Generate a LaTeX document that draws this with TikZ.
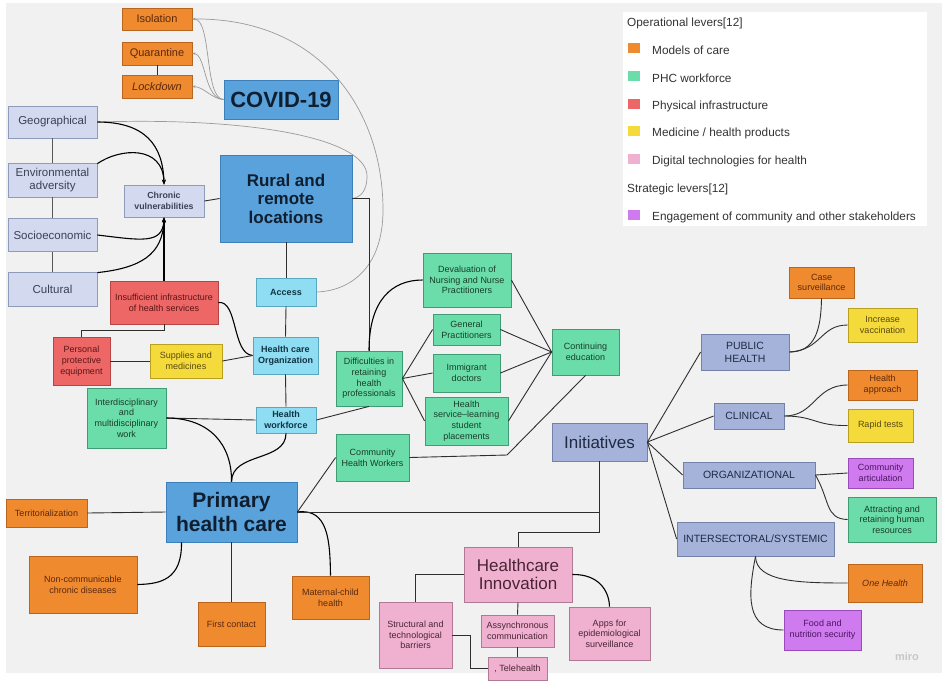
\documentclass[tikz,border=0pt]{standalone}
\usepackage{fontspec}
\setmainfont{Liberation Sans}
\usetikzlibrary{arrows.meta}
\definecolor{bgc}{HTML}{F1F1F1}
\definecolor{cor}{HTML}{F08A2E}\definecolor{corD}{HTML}{B8661F}\definecolor{corT}{HTML}{5A2810}
\definecolor{cbl}{HTML}{5AA2DC}\definecolor{cblD}{HTML}{3D7FB8}\definecolor{cblT}{HTML}{0F1F30}
\definecolor{clv}{HTML}{D3DAF0}\definecolor{clvD}{HTML}{8F9BBA}\definecolor{clvT}{HTML}{3A4255}
\definecolor{ccy}{HTML}{8FDDF2}\definecolor{ccyD}{HTML}{5AA8C0}\definecolor{ccyT}{HTML}{113344}
\definecolor{crd}{HTML}{EE6767}\definecolor{crdD}{HTML}{B84444}\definecolor{crdT}{HTML}{5A1515}
\definecolor{cye}{HTML}{F4DA3A}\definecolor{cyeD}{HTML}{B8A020}\definecolor{cyeT}{HTML}{5A4A10}
\definecolor{cgr}{HTML}{6ADDAA}\definecolor{cgrD}{HTML}{3F9C74}\definecolor{cgrT}{HTML}{1A3D2C}
\definecolor{cpk}{HTML}{EFB1CF}\definecolor{cpkD}{HTML}{B07A95}\definecolor{cpkT}{HTML}{4A2435}
\definecolor{cin}{HTML}{A5B3DA}\definecolor{cinD}{HTML}{7482AA}\definecolor{cinT}{HTML}{1F2A44}
\definecolor{cpu}{HTML}{CF7BEF}\definecolor{cpuD}{HTML}{9A4BBB}\definecolor{cpuT}{HTML}{4A1560}
\definecolor{lnc}{HTML}{2E2E2E}\definecolor{lng}{HTML}{9A9A9A}
\newcommand{\fsz}[2]{\fontsize{#1}{#2}\selectfont}
\begin{document}
\begin{tikzpicture}[x=1pt,y=-1pt,
  bx/.style={draw, rectangle, align=center, inner sep=1pt, line width=0.8pt, font=\fsz{9}{10.7}},
  org/.style={bx, fill=cor, draw=corD, text=corT},
  blu/.style={bx, fill=cbl, draw=cblD, text=cblT},
  lav/.style={bx, fill=clv, draw=clvD, text=clvT, font=\fsz{11.5}{13.3}},
  cya/.style={bx, fill=ccy, draw=ccyD, text=ccyT, font=\fsz{9}{10.7}\bfseries},
  red/.style={bx, fill=crd, draw=crdD, text=crdT},
  yel/.style={bx, fill=cye, draw=cyeD, text=cyeT},
  grn/.style={bx, fill=cgr, draw=cgrD, text=cgrT},
  pnk/.style={bx, fill=cpk, draw=cpkD, text=cpkT},
  ini/.style={bx, fill=cin, draw=cinD, text=cinT, font=\fsz{10.5}{13}},
  pur/.style={bx, fill=cpu, draw=cpuD, text=cpuT},
  ln/.style={draw=lnc, line width=0.9pt},
  blk/.style={draw=black, line width=1.1pt},
  arr/.style={blk, -{Stealth[length=5pt,width=4pt]}},
  gln/.style={draw=lng, line width=0.7pt},
  garr/.style={gln, {Stealth[length=3pt,width=2.5pt]}-},
  legtxt/.style={anchor=west, inner sep=0pt, font=\fsz{11.8}{13}, text=black!80},
  legsq/.style={minimum width=12, minimum height=10, inner sep=0pt}
]
\useasboundingbox (0,0) rectangle (942,681);
\fill[white] (0,0) rectangle (942,681);
\fill[bgc] (6,3) rectangle (942,673);

% legend
\node[fill=white, minimum width=304, minimum height=214, anchor=north west, inner sep=0pt] (legend) at (623,12) {};
\node[legtxt] (lg0) at (627,23) {Operational levers[12]};
\node[legsq, fill=cor] (sq1) at (634,47.5) {};
\node[legtxt] (lg1) at (652,50) {Models of care};
\node[legsq, fill=cgr] (sq2) at (634,75.5) {};
\node[legtxt] (lg2) at (652,78) {PHC workforce};
\node[legsq, fill=crd] (sq3) at (634,103.5) {};
\node[legtxt] (lg3) at (652,106) {Physical infrastructure};
\node[legsq, fill=cye] (sq4) at (634,130.5) {};
\node[legtxt] (lg4) at (652,133) {Medicine / health products};
\node[legsq, fill=cpk] (sq5) at (634,158.5) {};
\node[legtxt] (lg5) at (652,161) {Digital technologies for health};
\node[legtxt] (lg6) at (627,189) {Strategic levers[12]};
\node[legsq, fill=cpu] (sq7) at (634,214.5) {};
\node[legtxt] (lg7) at (652,217) {Engagement of community and other stakeholders};

% nodes
\node[org, minimum width=70, minimum height=22, font=\fsz{11}{13}] (iso) at (157,19) {Isolation};
\node[org, minimum width=70, minimum height=23, font=\fsz{11}{13}] (quar) at (157,53.5) {Quarantine};
\node[org, minimum width=70, minimum height=23, font=\fsz{11}{13}\itshape] (lock) at (157,86.5) {Lockdown};
\node[blu, minimum width=114, minimum height=39, font=\fsz{22}{24}\bfseries] (covid) at (281,99.5) {COVID-19};
\node[lav, minimum width=89, minimum height=32] (geo) at (52.5,122) {Geographical};
\node[lav, minimum width=89, minimum height=34] (env) at (52.5,180) {Environmental\\adversity};
\node[lav, minimum width=89, minimum height=33] (soc) at (52.5,235) {Socioeconomic};
\node[lav, minimum width=89, minimum height=34] (cul) at (52.5,289) {Cultural};
\node[lav, minimum width=80, minimum height=32, font=\fsz{8.8}{11}\bfseries] (chron) at (164,201) {Chronic\\vulnerabilities};
\node[blu, minimum width=132, minimum height=87, font=\fsz{17}{18.5}\bfseries] (rural) at (286,198.5) {Rural and\\remote\\locations};
\node[cya, minimum width=60, minimum height=28] (access) at (286,292) {Access};
\node[red, minimum width=108, minimum height=43] (insuf) at (164,302.5) {Insufficient infrastructure\\of health services};
\node[red, minimum width=57, minimum height=48] (ppe) at (81.5,361) {Personal\\protective\\equipment};
\node[yel, minimum width=72, minimum height=34] (supp) at (186,361) {Supplies and\\medicines};
\node[cya, minimum width=65, minimum height=37] (hco) at (285.5,355.5) {Health care\\Organization};
\node[grn, minimum width=79, minimum height=60] (inter) at (126.5,418) {Interdisciplinary\\and\\multidisciplinary\\work};
\node[cya, minimum width=60, minimum height=26] (hwf) at (286,420) {Health\\workforce};
\node[grn, minimum width=66, minimum height=55] (diff) at (369,378.5) {Difficulties in\\retaining\\health\\professionals};
\node[grn, minimum width=88, minimum height=54] (deval) at (467,280) {Devaluation of\\Nursing and Nurse\\Practitioners};
\node[grn, minimum width=67, minimum height=31] (gp) at (466.5,329.5) {General\\Practitioners};
\node[grn, minimum width=67, minimum height=38] (immi) at (466.5,373) {Immigrant\\doctors};
\node[grn, minimum width=83, minimum height=48] (hsl) at (466.5,421) {Health\\service--learning\\student\\placements};
\node[grn, minimum width=67, minimum height=46] (cont) at (585.5,352) {Continuing\\education};
\node[grn, minimum width=73, minimum height=47] (chw) at (372.5,457.5) {Community\\Health Workers};
\node[ini, minimum width=95, minimum height=38, font=\fsz{17}{19}] (init) at (599.5,442) {Initiatives};
\node[blu, minimum width=131, minimum height=60, font=\fsz{21}{24}\bfseries] (phc) at (231.5,512) {Primary\\health care};
\node[org, minimum width=81, minimum height=28] (terr) at (46.5,513) {Territorialization};
\node[org, minimum width=108, minimum height=57] (ncd) at (83,584.5) {Non-communicable\\chronic diseases};
\node[org, minimum width=67, minimum height=44] (first) at (231.5,624) {First contact};
\node[org, minimum width=77, minimum height=43] (mat) at (330.5,597.5) {Maternal-child\\health};
\node[pnk, minimum width=108, minimum height=55, font=\fsz{17}{18.5}] (hi) at (518,574.5) {Healthcare\\Innovation};
\node[pnk, minimum width=73, minimum height=66] (struct) at (415.5,635) {Structural and\\technological\\barriers};
\node[pnk, minimum width=73, minimum height=32] (async) at (517.5,631) {Assynchronous\\communication};
\node[pnk, minimum width=59, minimum height=23] (tele) at (517.5,668.5) {, Telehealth};
\node[pnk, minimum width=81, minimum height=53] (apps) at (609.5,633.5) {Apps for\\epidemiological\\surveillance};
\node[ini, minimum width=88, minimum height=36] (ph) at (745,352) {PUBLIC\\HEALTH};
\node[ini, minimum width=70, minimum height=26] (clin) at (749,416) {CLINICAL};
\node[ini, minimum width=132, minimum height=26] (orgn) at (749,475) {ORGANIZATIONAL};
\node[ini, minimum width=157, minimum height=34] (isys) at (755.5,539) {INTERSECTORAL/SYSTEMIC};
\node[org, minimum width=65, minimum height=31] (case) at (821.5,282.5) {Case\\surveillance};
\node[yel, minimum width=69, minimum height=34] (vacc) at (882.5,325) {Increase\\vaccination};
\node[org, minimum width=69, minimum height=30] (happ) at (882.5,385) {Health\\approach};
\node[yel, minimum width=65, minimum height=33] (rapid) at (880.5,425.5) {Rapid tests};
\node[pur, minimum width=65, minimum height=30] (comm) at (880.5,473) {Community\\articulation};
\node[grn, minimum width=88, minimum height=45] (attr) at (892,519.5) {Attracting and\\retaining human\\resources};
\node[org, minimum width=74, minimum height=38, font=\fsz{9}{10.7}\itshape] (oneh) at (885,583) {One Health};
\node[pur, minimum width=77, minimum height=40] (food) at (822.5,630) {Food and\\nutrition security};
\node[text=black!22, font=\fsz{11}{12}\bfseries] (miro) at (907,657) {miro};

% connectors: COVID cluster (gray thin)
\draw[garr] (iso.east) .. controls (212,19) and (204,99) .. (covid.west);
\draw[garr] (quar.east) .. controls (206,54) and (204,99) .. (covid.west);
\draw[garr] (lock.east) .. controls (204,87) and (212,99) .. (covid.west);
\draw[gln] (iso.east) .. controls (320,17) and (383,110) .. (383,210) .. controls (383,268) and (350,291) .. (access.east);
\draw[gln] (geo.east) .. controls (260,117) and (367,140) .. (367,176) .. controls (367,192) and (360,197) .. (rural.east);
\draw[ln] (quar.south) -- (lock.north);

% vulnerabilities
\draw[ln, draw=lnc!80] (geo.south) -- (env.north);
\draw[ln, draw=lnc!80] (env.south) -- (soc.north);
\draw[ln, draw=lnc!80] (soc.south) -- (cul.north);
\draw[arr] (geo.east) .. controls (145,122) and (163,145) .. (chron.north);
\draw[arr] ([yshift=-1pt]env.north east) .. controls (120,148) and (163,145) .. (chron.north);
\draw[arr] (soc.east) .. controls (140,240) and (163,245) .. (chron.south);
\draw[arr] ([yshift=-1pt]cul.north east) .. controls (140,268) and (163,255) .. (chron.south);
\draw[arr] (insuf.north) -- (chron.south);
\draw[ln] (chron.east) -- (rural.west);

% access chain
\draw[ln] (rural.south) -- (access.north);
\draw[ln] (access.south) -- (hco.north);
\draw[ln] (hco.south) -- (hwf.north);
\draw[ln] (rural.east) -| (diff.north);
\draw[blk] (insuf.east) .. controls (238,300) and (232,354) .. (hco.west);
\draw[ln] (insuf.south) -- ++(0,6) -| (ppe.north);
\draw[ln] (ppe.east) -- (supp.west);
\draw[ln] (supp.east) -- (hco.west);
\draw[ln] (inter.east) -- (hwf.west);
\draw[blk] (inter.east) .. controls (210,418) and (232,445) .. (phc.north);
\draw[blk] (hwf.south) .. controls (286,462) and (232,452) .. (phc.north);
\draw[ln] (hwf.east) -- (diff.south);

% workforce
\draw[blk] (diff.north) .. controls (369,300) and (392,280) .. (deval.west);
\draw[ln] (diff.east) -- (gp.west);
\draw[ln] (diff.east) -- (immi.west);
\draw[ln] (diff.east) -- (hsl.west);
\draw[ln] (deval.east) -- (cont.west);
\draw[ln] (gp.east) -- (cont.west);
\draw[ln] (immi.east) -- (cont.west);
\draw[ln] (hsl.east) -- (cont.west);
\coordinate (bend1) at (507,455);
\draw[ln] (cont.south) -- (bend1) -- (chw.east);
\draw[ln] (phc.east) -- (chw.west);

% primary health care
\draw[ln] (terr.east) -- (phc.west);
\draw[blk] ([xshift=-50pt]phc.south) .. controls (182,580) and (160,584) .. (ncd.east);
\draw[ln] (phc.south) -- (first.north);
\draw[blk] (phc.east) .. controls (328,508) and (330,540) .. (mat.north);
\draw[ln] (phc.east) -| (init.south);
\coordinate (bend2) at (599.5,532);
\draw[ln] (init.south) -- (bend2) -| (hi.north);

% healthcare innovation
\draw[ln] (hi.west) -| (struct.north);
\draw[ln] (hi.south) -- (async.north);
\draw[ln] (async.south) -- (tele.north);
\coordinate (bend3) at (470,635);
\draw[ln] (struct.east) -- (bend3) |- (tele.west);
\draw[blk] (hi.east) .. controls (598,574) and (609,590) .. (apps.north);

% initiatives
\draw[ln] (init.east) -- (ph.west);
\draw[ln] (init.east) -- (clin.west);
\draw[ln] (init.east) -- (orgn.west);
\draw[ln] (init.east) -- (isys.west);
\draw[ln] (ph.east) .. controls (815,352) and (821,330) .. (case.south);
\draw[ln] (ph.east) .. controls (822,350) and (820,325) .. (vacc.west);
\draw[ln] (clin.east) .. controls (815,416) and (815,385) .. (happ.west);
\draw[ln] (clin.east) .. controls (815,416) and (815,426) .. (rapid.west);
\draw[ln] (orgn.east) -- (comm.west);
\draw[ln] (orgn.east) .. controls (830,500) and (825,519) .. (attr.west);
\draw[ln] (isys.south) .. controls (756,582) and (800,583) .. (oneh.west);
\draw[ln] (isys.south) .. controls (748,595) and (745,630) .. (food.west);
\end{tikzpicture}
\end{document}
